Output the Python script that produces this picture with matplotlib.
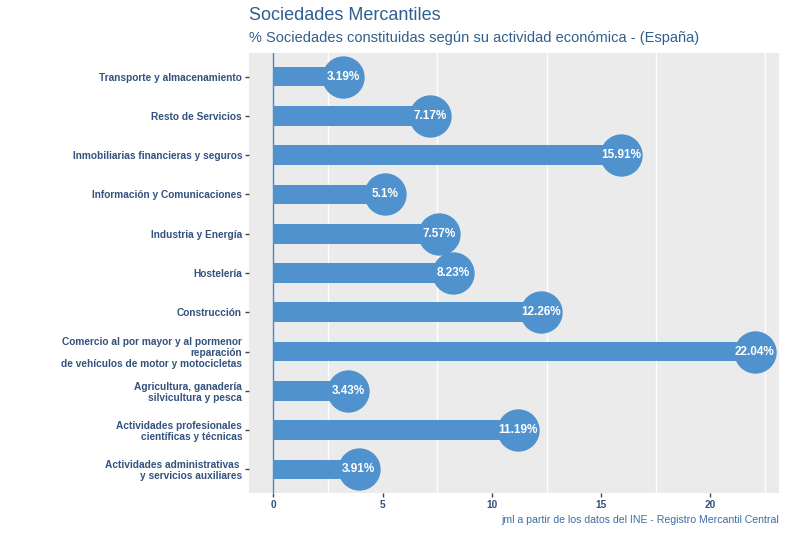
import matplotlib
matplotlib.use("Agg")
import matplotlib.pyplot as plt
import numpy as np

categories = [
    "Actividades administrativas \ny servicios auxiliares",
    "Actividades profesionales\ncientíficas y técnicas",
    "Agricultura, ganadería\nsilvicultura y pesca",
    "Comercio al por mayor y al pormenor\nreparación\nde vehículos de motor y motocicletas",
    "Construcción",
    "Hostelería",
    "Industria y Energía",
    "Información y Comunicaciones",
    "Inmobiliarias financieras y seguros",
    "Resto de Servicios",
    "Transporte y almacenamiento",
]
values = [3.91, 11.19, 3.43, 22.04, 12.26, 8.23, 7.57, 5.1, 15.91, 7.17, 3.19]
labels = ["3.91%", "11.19%", "3.43%", "22.04%", "12.26%", "8.23%", "7.57%", "5.1%", "15.91%", "7.17%", "3.19%"]
xticks = [0, 5, 10, 15, 20]

plt.rcParams['font.family'] = ['Liberation Sans', 'DejaVu Sans']

bar_color = "#4F92CE"
text_color = "#2F5F8F"
tick_color = "#34527E"

fig = plt.figure(figsize=(7.87, 5.33), dpi=100)
ax = fig.add_axes([249/787, 1 - 493/533, (779-249)/787, (493-53)/533])
ax.set_facecolor("#EBEBEB")

y = np.arange(len(categories))
ax.barh(y, values, height=0.5, color=bar_color, zorder=3)
ax.scatter(values, y, s=930, color=bar_color, zorder=4, linewidths=0)
for v, yy, lab in zip(values, y, labels):
    ax.text(v, yy, lab, ha="center", va="center", color="white",
            fontsize=8.5, fontweight="bold", zorder=5)

ax.axvline(0, color="#4A86C0", lw=1.0, zorder=2)

ax.set_xlim(-1.12, 23.14)
ax.set_ylim(-0.6, len(categories) - 0.4)
ax.set_yticks(y)
ax.set_yticklabels(categories, fontsize=7.3, fontweight="bold", color=tick_color,
                   linespacing=1.12)
ax.set_xticks(xticks)
ax.set_xticklabels([str(t) for t in xticks], fontsize=7.3, fontweight="bold", color=tick_color)
ax.set_xticks([2.5, 7.5, 12.5, 17.5, 22.5], minor=True)
ax.grid(False)
ax.grid(which="minor", axis="x", color="white", lw=1.0, zorder=1)
ax.tick_params(axis="both", which="major", length=3, width=1, color="#444444", pad=2)
ax.tick_params(axis="x", which="minor", length=0)
for s in ax.spines.values():
    s.set_visible(False)

fig.text(249/787, 1 - 16/533, "Sociedades Mercantiles", fontsize=13, color=text_color,
         ha="left", va="center")
fig.text(249/787, 1 - 38/533, "% Sociedades constituidas según su actividad económica - (España)",
         fontsize=10.5, color=text_color, ha="left", va="center")
fig.text(779/787, 1 - 520/533, "jml a partir de los datos del INE - Registro Mercantil Central",
         fontsize=7.6, color="#3D6FA5", ha="right", va="center")

fig.savefig("out.png", dpi=100)
